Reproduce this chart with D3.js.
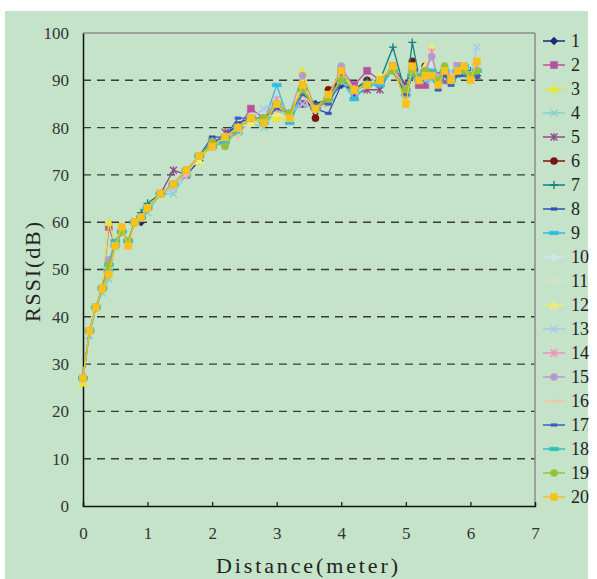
<!DOCTYPE html>
<html>
<head>
<meta charset="utf-8">
<script src="https://cdn.jsdelivr.net/npm/d3@7"></script>
<style>
    body {margin: 0; background: #fff;}
    #chart-container {width: 597px; height: 579px;}
</style>
</head>
<body>
<div id="chart-container"></div>
<script>
const distance=[0, 0.1, 0.2, 0.3, 0.4, 0.5, 0.6, 0.7, 0.8, 0.9, 1.0, 1.2, 1.4, 1.6, 1.8, 2.0, 2.2, 2.4, 2.6, 2.8, 3.0,
    3.2, 3.4, 3.6, 3.8, 4.0, 4.2, 4.4, 4.6, 4.8, 5.0, 5.1, 5.2, 5.3, 5.4, 5.5, 5.6, 5.7, 5.8, 5.9, 6.0, 6.1];

const s1=[27, 37, 42, 46, 51, 55, 58, 56, 60, 60, 63, 66, 68, 70, 73, 77, 77, 80, 82, 81, 84, 83, 88, 85, 86, 89, 88, 89, 90, 92, 87, 92, 91, 92, 92, 90, 91, 91, 92, 92, 91, 91];
const s2=[27, 37, 42, 46, 59, 55, 58, 56, 60, 61, 63, 66, 68, 70, 74, 77, 77, 80, 84, 82, 84, 83, 85, 84, 86, 92, 89, 92, 90, 93, 89, 91, 89, 89, 91, 91, 90, 90, 93, 92, 91, 92];
const s3=[26, 37, 42, 46, 60, 55, 58, 56, 60, 61, 63, 66, 68, 71, 73, 76, 78, 79, 82, 82, 82, 82, 92, 84, 86, 91, 88, 89, 90, 92, 86, 92, 90, 91, 92, 90, 91, 91, 92, 92, 91, 92];
const s4=[27, 36, 42, 45, 48, 55, 58, 56, 60, 61, 62, 66, 66, 70, 74, 76, 77, 79, 81, 80, 84, 82, 87, 84, 85, 90, 88, 89, 89, 92, 87, 91, 91, 90, 90, 91, 92, 90, 91, 93, 91, 92];
const s5=[27, 37, 42, 46, 51, 55, 58, 56, 60, 61, 63, 66, 71, 70, 74, 76, 79, 80, 82, 82, 84, 83, 85, 84, 86, 91, 87, 88, 88, 93, 89, 91, 90, 91, 91, 90, 91, 91, 92, 92, 91, 91];
const s6=[27, 37, 42, 46, 51, 55, 58, 56, 60, 61, 63, 66, 68, 71, 74, 76, 78, 80, 82, 82, 84, 83, 88, 82, 88, 90, 88, 90, 90, 92, 88, 94, 91, 93, 92, 90, 91, 90, 92, 92, 91, 92];
const s7=[27, 37, 42, 46, 51, 55, 58, 56, 60, 62, 64, 66, 68, 71, 74, 77, 78, 80, 82, 82, 84, 83, 87, 84, 86, 90, 88, 90, 90, 97, 87, 98, 91, 91, 92, 90, 91, 91, 92, 92, 92, 92];
const s8=[27, 37, 42, 46, 51, 56, 58, 56, 60, 61, 63, 66, 68, 70, 74, 78, 78, 81, 82, 82, 84, 83, 87, 84, 83, 89, 88, 89, 90, 92, 87, 91, 90, 92, 91, 88, 92, 89, 91, 92, 91, 91];
const s9=[27, 37, 42, 46, 50, 55, 58, 56, 60, 61, 63, 66, 68, 70, 74, 76, 77, 79, 82, 81, 89, 81, 87, 84, 86, 90, 86, 89, 89, 92, 87, 91, 90, 91, 91, 90, 91, 91, 92, 92, 91, 92];
const s10=[27, 37, 42, 46, 51, 55, 58, 56, 60, 61, 63, 66, 68, 71, 74, 76, 78, 80, 82, 82, 84, 83, 87, 84, 86, 90, 88, 89, 90, 92, 88, 92, 91, 92, 93, 90, 91, 92, 92, 93, 91, 92];
const s11=[27, 37, 42, 46, 51, 55, 58, 56, 60, 61, 63, 66, 68, 71, 74, 76, 78, 80, 82, 82, 84, 83, 87, 84, 86, 90, 88, 89, 90, 92, 88, 92, 91, 91, 92, 90, 91, 91, 92, 92, 91, 92];
const s12=[27, 37, 42, 46, 51, 55, 58, 56, 60, 61, 63, 66, 68, 71, 73, 77, 78, 80, 81, 82, 83, 82, 90, 84, 86, 90, 88, 89, 91, 92, 88, 92, 91, 93, 97, 90, 91, 91, 93, 92, 91, 92];
const s13=[27, 37, 42, 46, 51, 55, 58, 56, 60, 61, 63, 66, 67, 71, 74, 76, 78, 80, 82, 84, 85, 83, 85, 84, 86, 90, 88, 89, 90, 92, 88, 92, 91, 92, 92, 90, 91, 92, 92, 93, 91, 97];
const s14=[27, 37, 42, 46, 52, 55, 58, 56, 60, 61, 63, 66, 68, 71, 74, 76, 78, 80, 82, 82, 86, 83, 87, 84, 86, 90, 88, 89, 90, 93, 88, 92, 90, 92, 96, 90, 91, 91, 93, 93, 91, 93];
const s15=[27, 37, 42, 46, 52, 55, 58, 56, 60, 61, 63, 66, 68, 70, 74, 77, 78, 80, 82, 82, 84, 83, 91, 84, 86, 93, 88, 89, 90, 92, 87, 92, 91, 92, 95, 90, 91, 90, 93, 92, 91, 92];
const s16=[27, 37, 42, 46, 51, 55, 58, 56, 60, 61, 63, 66, 68, 70, 74, 76, 78, 78, 82, 82, 84, 83, 87, 84, 85, 90, 88, 89, 90, 92, 88, 92, 91, 91, 92, 90, 91, 91, 92, 93, 91, 92];
const s17=[27, 37, 42, 46, 51, 55, 58, 56, 60, 61, 63, 66, 68, 71, 74, 77, 78, 82, 82, 82, 84, 83, 87, 85, 85, 90, 88, 89, 90, 92, 87, 91, 90, 91, 91, 88, 91, 89, 91, 91, 91, 91];
const s18=[27, 37, 42, 46, 51, 56, 58, 56, 60, 61, 63, 66, 68, 71, 74, 76, 78, 80, 82, 82, 85, 83, 88, 84, 86, 90, 88, 89, 90, 92, 88, 91, 91, 92, 92, 90, 92, 90, 92, 93, 91, 92];
const s19=[27, 37, 42, 46, 51, 55, 58, 56, 60, 61, 63, 66, 68, 71, 74, 77, 76, 80, 82, 82, 85, 83, 88, 84, 86, 90, 88, 89, 90, 92, 88, 92, 90, 92, 91, 90, 93, 90, 92, 92, 91, 92];
const s20=[27, 37, 42, 46, 49, 55, 59, 55, 60, 61, 63, 66, 68, 71, 74, 76, 78, 80, 82, 81, 85, 82, 89, 84, 87, 92, 88, 89, 90, 93, 85, 93, 90, 91, 91, 89, 92, 90, 92, 93, 90, 94];

const seriesNames=["1", "2", "3", "4", "5", "6", "7", "8", "9", "10", "11", "12", "13", "14", "15", "16", "17", "18", "19", "20"];
const seriesValues=[s1, s2, s3, s4, s5, s6, s7, s8, s9, s10, s11, s12, s13, s14, s15, s16, s17, s18, s19, s20];
const seriesColors=["#1f2a78", "#b8509f", "#e6e63a", "#80d0d4", "#8e4a8e", "#7f1010", "#138080", "#2f4fb8", "#2cbde6", "#cfe6f2",
    "#d3e5c9", "#ecec7a", "#a6c8ee", "#f090bf", "#b39ad2", "#f6c4a0", "#3a62bd", "#2fc0c0", "#92c23a", "#f8c11c"];
const seriesMarkers=["diamond", "square", "triangle", "x", "star", "circle", "plus", "dash", "bar", "diamond",
    "square", "triangle", "x", "star", "circle", "plus", "dash", "bar", "circle", "square"];

const xTicks=[0, 1, 2, 3, 4, 5, 6, 7];
const yTicks=[0, 10, 20, 30, 40, 50, 60, 70, 80, 90, 100];

const serif="'Liberation Serif', 'DejaVu Serif', serif";

const svg=d3.select("#chart-container").append("svg")
    .attr("width", 597)
    .attr("height", 579);

svg.append("rect")
    .attr("x", 5)
    .attr("y", 11)
    .attr("width", 583)
    .attr("height", 568)
    .attr("fill", "#c5e3c8");

const x=d3.scaleLinear().domain([0, 7]).range([83, 535]);
const y=d3.scaleLinear().domain([0, 100]).range([506, 33]);

// grid lines
svg.selectAll(".grid")
    .data(yTicks.filter(d => d>0 && d<100))
    .enter().append("line")
    .attr("class", "grid")
    .attr("x1", x(0))
    .attr("x2", x(7))
    .attr("y1", d => y(d))
    .attr("y2", d => y(d))
    .style("stroke", "#3a3a3a")
    .style("stroke-width", "1.4")
    .style("stroke-dasharray", "8,6");

svg.append("line")
    .attr("x1", x(0)).attr("x2", x(7))
    .attr("y1", y(100)).attr("y2", y(100))
    .style("stroke", "#8c8c8c").style("stroke-width", "1.5");

svg.append("line")
    .attr("x1", x(7)).attr("x2", x(7))
    .attr("y1", y(100)).attr("y2", y(0))
    .style("stroke", "#8c8c8c").style("stroke-width", "1.5");

const xAxis=svg.append("g")
    .attr("transform", `translate(0,${y(0)})`)
    .call(d3.axisBottom(x).tickValues(xTicks).tickSize(-4).tickPadding(21).tickFormat(d3.format("d")));

const yAxis=svg.append("g")
    .attr("transform", `translate(${x(0)},0)`)
    .call(d3.axisLeft(y).tickValues(yTicks).tickSize(0).tickPadding(14).tickFormat(d3.format("d")));

[xAxis, yAxis].forEach(g => {
    g.attr("font-family", serif);
    g.select(".domain").style("stroke", "#111").style("stroke-width", "1.5");
    g.selectAll(".tick line").style("stroke", "#111").style("stroke-width", "1.2");
    g.selectAll("text")
        .style("font-family", serif)
        .style("font-size", "17px")
        .style("fill", "#333");
});
xAxis.selectAll(".tick").filter(d => d===0 || d===7).select("line").remove();

svg.append("text")
    .attr("x", 307)
    .attr("y", 573)
    .attr("text-anchor", "middle")
    .attr("textLength", 182)
    .attr("lengthAdjust", "spacing")
    .style("font-family", serif)
    .style("font-size", "22px")
    .style("fill", "#222")
    .text("Distance(meter)");

svg.append("text")
    .attr("transform", "translate(40,272) rotate(-90)")
    .attr("text-anchor", "middle")
    .attr("textLength", 100)
    .attr("lengthAdjust", "spacing")
    .style("font-family", serif)
    .style("font-size", "22px")
    .style("fill", "#222")
    .text("RSSI(dB)");

function markerPath (type) {
    switch (type) {
        case "diamond": return "M0,-4L4,0L0,4L-4,0Z";
        case "square": return "M-3.5,-3.5H3.5V3.5H-3.5Z";
        case "triangle": return "M0,-4.5L4.5,3.5H-4.5Z";
        case "circle": return d3.symbol(d3.symbolCircle, 40)();
        case "x": return "M-3.5,-3.5L3.5,3.5M3.5,-3.5L-3.5,3.5";
        case "star": return "M-3.5,-3.5L3.5,3.5M3.5,-3.5L-3.5,3.5M0,-4V4";
        case "plus": return "M-4,0H4M0,-4V4";
        case "dash": return "M-3,-1.3H3V1.3H-3Z";
        case "bar": return "M-4.5,-1.8H4.5V1.8H-4.5Z";
    }
}

function isStroked (type) {
    return type==="x" || type==="star" || type==="plus";
}

const line=d3.line()
    .x((d, i) => x(distance[i]))
    .y(d => y(d));

const series=svg.selectAll(".series")
    .data(seriesValues)
    .enter().append("g")
    .attr("class", "series");

series.append("path")
    .attr("d", d => line(d))
    .style("fill", "none")
    .style("stroke", (d, i) => seriesColors[i])
    .style("stroke-width", "1.3");

series.each(function (values, i) {
    const type=seriesMarkers[i];
    d3.select(this).selectAll(".marker")
        .data(values)
        .enter().append("path")
        .attr("class", "marker")
        .attr("transform", (d, j) => `translate(${x(distance[j])},${y(d)})`)
        .attr("d", markerPath(type))
        .style("fill", isStroked(type)? "none":seriesColors[i])
        .style("stroke", seriesColors[i])
        .style("stroke-width", isStroked(type)? "1.3":"0.5");
});

// legend
const legend=svg.selectAll(".legend-item")
    .data(seriesNames)
    .enter().append("g")
    .attr("class", "legend-item")
    .attr("transform", (d, i) => `translate(0,${41+i*24})`);

legend.append("line")
    .attr("x1", 543)
    .attr("x2", 565)
    .style("stroke", (d, i) => seriesColors[i])
    .style("stroke-width", "1.5");

legend.append("path")
    .attr("transform", "translate(554,0)")
    .attr("d", (d, i) => markerPath(seriesMarkers[i]))
    .style("fill", (d, i) => isStroked(seriesMarkers[i])? "none":seriesColors[i])
    .style("stroke", (d, i) => seriesColors[i])
    .style("stroke-width", (d, i) => isStroked(seriesMarkers[i])? "1.3":"0.5");

legend.append("text")
    .attr("x", 571)
    .attr("y", 6)
    .style("font-family", serif)
    .style("font-size", "18px")
    .style("fill", "#222")
    .text(d => d);
</script>
</body>
</html>
